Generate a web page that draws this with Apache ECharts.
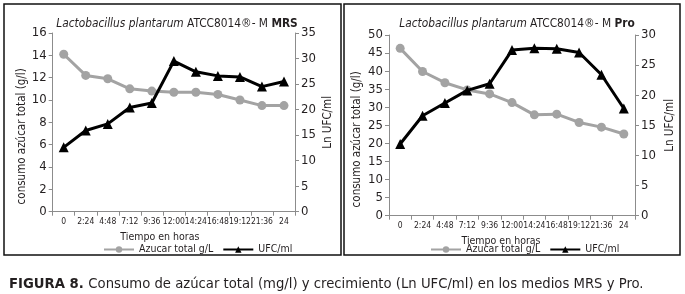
<!DOCTYPE html>
<html>
<head>
<meta charset="utf-8">
<script src="https://cdn.jsdelivr.net/npm/echarts@6/dist/echarts.min.js"></script>
<style>
html,body{margin:0;padding:0;background:#fff;}
#c{width:685px;height:294px;}
</style>
</head>
<body>
<div id="c"></div>
<script>
const categories = ['0','2:24','4:48','7:12','9:36','12:00','14:24','16:48','19:12','21:36','24'];
const mrsAzucar = [14.1,12.2,11.9,11.0,10.8,10.7,10.7,10.5,10.0,9.5,9.5];
const mrsUfc = [12.6,15.9,17.2,20.4,21.3,29.5,27.4,26.6,26.4,24.5,25.5];
const proAzucar = [46.3,39.9,36.8,34.8,33.7,31.3,27.9,28.1,25.8,24.5,22.6];
const proUfc = [11.9,16.6,18.7,20.8,21.9,27.5,27.8,27.7,27.1,23.4,17.8];
const mrsLeftTicks = {min:0,max:16,interval:2};
const mrsRightTicks = {min:0,max:35,interval:5};
const proLeftTicks = {min:0,max:50,interval:5};
const proRightTicks = {min:0,max:30,interval:5};

const FONT = '"Liberation Sans Narrow","DejaVu Sans Condensed",sans-serif';
const GRAY = '#a3a3a3';
const AXIS = '#8c8c8c';
const TXT = '#231f20';

const chart = echarts.init(document.getElementById('c'));

function yAx(gi, t, name, pos, gap, pad){
  return {
    type:'value', gridIndex:gi, position:pos, min:t.min, max:t.max, interval:t.interval,
    splitLine:{show:false},
    axisLine:{show:true,lineStyle:{color:AXIS,width:1}},
    axisTick:{show:true,length:4,lineStyle:{color:AXIS}},
    axisLabel:{color:TXT,fontFamily:FONT,fontSize:13,margin:6},
    name:name, nameLocation:'middle', nameGap:gap, nameRotate:90,
    nameTextStyle:{color:TXT,fontFamily:FONT,fontSize:11.5,padding:pad}
  };
}
function xAx(gi, pad){
  return {
    type:'category', gridIndex:gi, data:categories, boundaryGap:true,
    axisLine:{show:true,lineStyle:{color:AXIS,width:1}},
    axisTick:{show:true,length:4,alignWithLabel:false,lineStyle:{color:AXIS}},
    axisLabel:{color:TXT,fontFamily:FONT,fontSize:8.5,margin:6,interval:0},
    name:'Tiempo en horas', nameLocation:'middle', nameGap:17,
    nameTextStyle:{color:TXT,fontFamily:FONT,fontSize:10.5,padding:pad}
  };
}
function titleRich(medium){
  return {
    text:'{i|Lactobacillus plantarum }{n|ATCC8014®- M }{b|'+medium+'}',
    textStyle:{
      fontWeight:'normal',
      rich:{
        i:{fontFamily:FONT,fontStyle:'italic',fontWeight:'normal',fontSize:11.8,color:TXT},
        n:{fontFamily:FONT,fontWeight:'normal',fontSize:11.8,color:TXT},
        b:{fontFamily:FONT,fontWeight:'bold',fontSize:11.8,color:TXT}
      }
    }
  };
}
function azSeries(xi, yi, data){
  return {name:'Azucar total g/L',type:'line',xAxisIndex:xi,yAxisIndex:yi,data:data,
    symbol:'circle',symbolSize:9,itemStyle:{color:GRAY},lineStyle:{color:GRAY,width:3},z:2};
}
function ufcSeries(xi, yi, data){
  return {name:'UFC/ml',type:'line',xAxisIndex:xi,yAxisIndex:yi,data:data,
    symbol:'triangle',symbolSize:10,itemStyle:{color:'#000'},lineStyle:{color:'#000',width:3},z:3};
}
function legend(cx){
  return {
    data:['Azucar total g/L','UFC/ml'], left:cx, top:239, itemWidth:30, itemHeight:8, itemGap:9,
    textStyle:{color:TXT,fontFamily:FONT,fontSize:10.5}, selectedMode:false
  };
}

chart.setOption({
  animation:false,
  backgroundColor:'#fff',
  title:[
    Object.assign(titleRich('MRS'),{left:172,top:13,textAlign:'center'}),
    Object.assign(titleRich('Pro'),{left:512,top:13,textAlign:'center'}),
    {text:'{b|FIGURA 8. }{n|Consumo de azúcar total (mg/l) y crecimiento (Ln UFC/ml) en los medios MRS y Pro.}',
     left:4, top:272,
     textStyle:{fontWeight:'normal',rich:{
       b:{fontFamily:FONT,fontWeight:'bold',fontSize:14.7,color:TXT},
       n:{fontFamily:FONT,fontWeight:'normal',fontSize:14.7,color:TXT}
     }}}
  ],
  graphic:[
    {type:'rect',shape:{x:4,y:4,width:337,height:251},style:{fill:'none',stroke:'#111',lineWidth:1.5},silent:true},
    {type:'rect',shape:{x:344,y:4,width:336,height:251},style:{fill:'none',stroke:'#111',lineWidth:1.5},silent:true}
  ],
  legend:[legend(98), legend(425)],
  grid:[
    {left:52.7,top:33,width:242.3,height:178.7,containLabel:false},
    {left:389,top:35,width:246,height:180.7,containLabel:false}
  ],
  xAxis:[xAx(0,[0,28,0,0]), xAx(1,[0,22,0,0])],
  yAxis:[
    yAx(0,mrsLeftTicks,'consumo azúcar total (g/l)','left',25,[0,28,0,0]),
    yAx(0,mrsRightTicks,'Ln UFC/ml','right',27,[0,0,0,0]),
    yAx(1,proLeftTicks,'consumo azúcar total (g/l)','left',26,[0,28,0,0]),
    yAx(1,proRightTicks,'Ln UFC/ml','right',29,[0,0,0,0])
  ],
  series:[
    azSeries(0,0,mrsAzucar), ufcSeries(0,1,mrsUfc),
    azSeries(1,2,proAzucar), ufcSeries(1,3,proUfc)
  ]
});
</script>
</body>
</html>
